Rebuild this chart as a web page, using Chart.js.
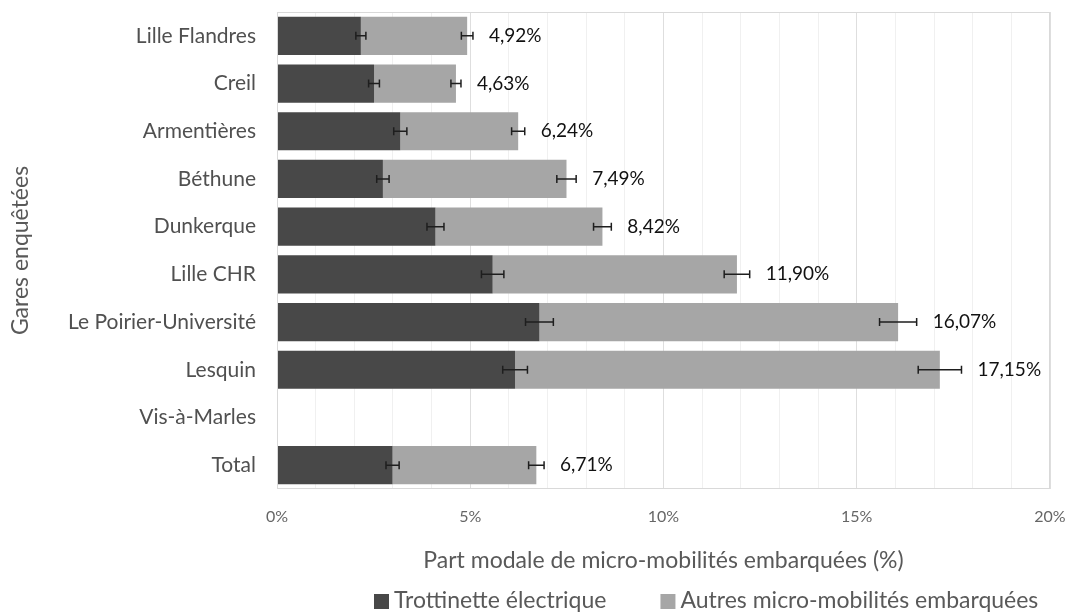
<!DOCTYPE html>
<html>
<head>
<meta charset="utf-8">
<script src="https://cdn.jsdelivr.net/npm/chart.js@4"></script>
<style>
  html, body { margin: 0; padding: 0; background: #fff; }
  #wrap { width: 1074px; height: 615px; }
</style>
</head>
<body>
<div id="wrap"><canvas id="chart"></canvas></div>
<script>
// Gares (de haut en bas)
const gares = ['Lille Flandres', 'Creil', 'Armentières', 'Béthune', 'Dunkerque',
    'Lille CHR', 'Le Poirier-Université', 'Lesquin', 'Vis-à-Marles', 'Total'];

// Part modale (%) par type
const trottinette = [2.17, 2.51, 3.19, 2.74, 4.10, 5.58, 6.79, 6.16, 0, 2.99];
const autres = [2.75, 2.12, 3.05, 4.75, 4.32, 6.32, 9.28, 10.99, 0, 3.72];
const totaux = [4.92, 4.63, 6.24, 7.49, 8.42, 11.90, 16.07, 17.15, 0, 6.71];

// Barres d'erreur (+/- en points de %)
const errTrottinette = [0.13, 0.14, 0.17, 0.16, 0.22, 0.29, 0.36, 0.32, 0, 0.17];
const errTotal = [0.15, 0.13, 0.17, 0.25, 0.23, 0.33, 0.48, 0.56, 0, 0.20];

// Graduations de l'axe x
const xTicks = [0, 5, 10, 15, 20];

const FONT = 'Lato';
const couleurs = ['#484848', '#a6a6a6'];

const extras = {
    id: 'extras',
    afterDraw(chart) {
        const {ctx, chartArea: a, scales: {x, y}} = chart;
        ctx.save();
        // cadre
        ctx.strokeStyle = '#d9d9d9';
        ctx.lineWidth = 1;
        ctx.strokeRect(a.left + 0.5, a.top + 0.5, a.right - a.left - 1, a.bottom - a.top - 1);

        // barres d'erreur
        ctx.strokeStyle = '#1e1e1e';
        ctx.lineWidth = 1.5;
        const bar = (v, e, yc) => {
            if (!v) return;
            const x0 = x.getPixelForValue(v - e), x1 = x.getPixelForValue(v + e);
            ctx.beginPath();
            ctx.moveTo(x0, yc); ctx.lineTo(x1, yc);
            ctx.moveTo(x0, yc - 4); ctx.lineTo(x0, yc + 4);
            ctx.moveTo(x1, yc - 4); ctx.lineTo(x1, yc + 4);
            ctx.stroke();
        };
        gares.forEach((g, i) => {
            const yc = y.getPixelForValue(i);
            bar(trottinette[i], errTrottinette[i], yc);
            bar(totaux[i], errTotal[i], yc);
        });

        // étiquettes des totaux
        ctx.fillStyle = '#111';
        ctx.font = '19px ' + FONT;
        ctx.textBaseline = 'middle';
        ctx.textAlign = 'left';
        gares.forEach((g, i) => {
            if (!totaux[i]) return;
            const xe = x.getPixelForValue(totaux[i] + errTotal[i]);
            ctx.fillText(totaux[i].toFixed(2).replace('.', ',') + '%', xe + 16, y.getPixelForValue(i));
        });

        // légende
        ctx.font = '23px ' + FONT;
        let lx = 374;
        const ly = 601;
        chart.data.datasets.forEach(ds => {
            ctx.fillStyle = ds.backgroundColor;
            ctx.fillRect(lx, ly - 7, 15, 15);
            ctx.fillStyle = '#595959';
            ctx.fillText(ds.label, lx + 20, ly);
            lx += 20 + ctx.measureText(ds.label).width + 54;
        });
        ctx.restore();
    }
};

new Chart(document.getElementById('chart'), {
    type: 'bar',
    data: {
        labels: gares,
        datasets: [
            {label: 'Trottinette électrique', data: trottinette, backgroundColor: couleurs[0]},
            {label: 'Autres micro-mobilités embarquées', data: autres, backgroundColor: couleurs[1]}
        ]
    },
    options: {
        indexAxis: 'y',
        responsive: true,
        maintainAspectRatio: false,
        animation: false,
        layout: {padding: {left: 0, top: 12, right: 24, bottom: 40}},
        datasets: {bar: {barPercentage: 1, categoryPercentage: 0.8}},
        scales: {
            x: {
                stacked: true,
                min: 0,
                max: 20,
                z: 1,
                afterFit: s => {
                    s.height = 86;
                    s.paddingLeft = 0; s.paddingRight = 0;
                },
                border: {display: false},
                grid: {
                    drawTicks: false,
                    color: c => c.tick && c.tick.value % 5 === 0 ? 'rgba(0,0,0,0.13)' : 'rgba(0,0,0,0.06)'
                },
                ticks: {
                    stepSize: 1,
                    autoSkip: false,
                    maxRotation: 0,
                    padding: 18,
                    color: '#666',
                    font: {family: FONT, size: 16},
                    callback: v => xTicks.includes(v) ? v + '%' : ''
                },
                title: {
                    display: true,
                    text: 'Part modale de micro-mobilités embarquées (%)',
                    color: '#595959',
                    font: {family: FONT, size: 23},
                    padding: {top: 0, bottom: 1}
                }
            },
            y: {
                stacked: true,
                afterFit: s => {
                    s.width = 277;
                    s.paddingTop = 0; s.paddingBottom = 0;
                },
                border: {display: false},
                grid: {display: false, drawTicks: false},
                ticks: {
                    padding: 21,
                    color: '#505050',
                    font: {family: FONT, size: 21}
                },
                title: {
                    display: true,
                    text: 'Gares enquêtées',
                    color: '#595959',
                    font: {family: FONT, size: 23},
                    padding: {top: 7, bottom: 0}
                }
            }
        },
        plugins: {
            legend: {display: false},
            tooltip: {enabled: false}
        }
    },
    plugins: [extras]
});
</script>
</body>
</html>
